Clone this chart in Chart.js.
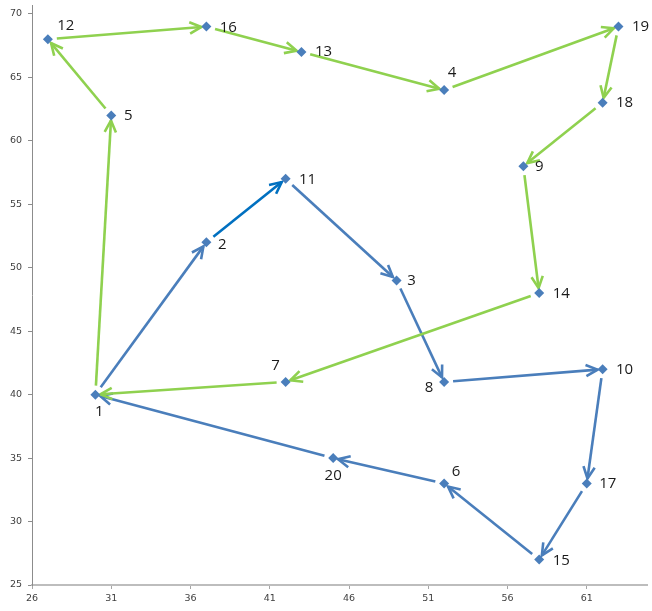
<!DOCTYPE html>
<html>
<head>
<meta charset="utf-8">
<script src="https://cdn.jsdelivr.net/npm/chart.js@4"></script>
<style>
  body { margin: 0; background: #fff; }
  #wrap { width: 652px; height: 611px; }
</style>
</head>
<body>
<div id="wrap"><canvas id="tour" width="652" height="611"></canvas></div>
<script>
// city ids and coordinates
const cityIds = [1, 2, 3, 4, 5, 6, 7, 8, 9, 10, 11, 12, 13, 14, 15, 16, 17, 18, 19, 20];
const xValues = [30, 37, 49, 52, 31, 52, 42, 52, 57, 62, 42, 27, 43, 58, 58, 37, 61, 62, 63, 45];
const yValues = [40, 52, 49, 64, 62, 33, 41, 41, 58, 42, 57, 68, 67, 48, 27, 69, 33, 63, 69, 35];

// the two routes, as lists of city ids
const blueRoute = [1, 2, 11, 3, 8, 10, 17, 15, 6, 20, 1];
const greenRoute = [1, 5, 12, 16, 13, 4, 19, 18, 9, 14, 7, 1];

// axis ticks
const xTicks = [26, 31, 36, 41, 46, 51, 56, 61];
const yTicks = [25, 30, 35, 40, 45, 50, 55, 60, 65, 70];

// where the number sits relative to its marker (px)
const labelOffset = {
  1: [4, 17], 2: [16, 2], 3: [15, 0], 4: [8, -17], 5: [17, 0],
  6: [12, -12], 7: [-10, -16], 8: [-15, 6], 9: [16, 1], 10: [22, 0],
  11: [22, 1], 12: [18, -14], 13: [22, 0], 14: [22, 1], 15: [22, 1],
  16: [22, 1], 17: [21, 0], 18: [22, 0], 19: [22, 0], 20: [0, 18],
};

const BLUE = "#4A7EBB";
const DARK_BLUE = "#0070C0";
const GREEN = "#8FD14F";

const points = cityIds.map((id, i) => ({ x: xValues[i], y: yValues[i], id: id }));

function zeroPadding(scale) {
  scale.paddingLeft = 0;
  scale.paddingRight = 0;
  scale.paddingTop = 0;
  scale.paddingBottom = 0;
}

function drawArrow(ctx, x1, y1, x2, y2, color) {
  const dx = x2 - x1;
  const dy = y2 - y1;
  const len = Math.sqrt(dx * dx + dy * dy);
  const ux = dx / len;
  const uy = dy / len;
  const sx = x1 + ux * 9;
  const sy = y1 + uy * 9;
  const ex = x2 - ux * 5;
  const ey = y2 - uy * 5;
  ctx.strokeStyle = color;
  ctx.lineWidth = 2.6;
  ctx.lineCap = "butt";
  ctx.beginPath();
  ctx.moveTo(sx, sy);
  ctx.lineTo(ex, ey);
  ctx.stroke();
  const head = 13;
  const ang = Math.atan2(uy, ux);
  ctx.lineJoin = "miter";
  ctx.beginPath();
  ctx.moveTo(ex - head * Math.cos(ang - 0.45), ey - head * Math.sin(ang - 0.45));
  ctx.lineTo(ex, ey);
  ctx.lineTo(ex - head * Math.cos(ang + 0.45), ey - head * Math.sin(ang + 0.45));
  ctx.stroke();
}

const routePlugin = {
  id: "routes",
  beforeDatasetsDraw(chart) {
    const ctx = chart.ctx;
    const xs = chart.scales.x;
    const ys = chart.scales.y;
    const px = (id) => xs.getPixelForValue(xValues[id - 1]);
    const py = (id) => ys.getPixelForValue(yValues[id - 1]);
    ctx.save();
    [[blueRoute, BLUE], [greenRoute, GREEN]].forEach(([route, color]) => {
      for (let i = 0; i < route.length - 1; i++) {
        const a = route[i];
        const b = route[i + 1];
        // the 2 -> 11 leg is drawn in a darker blue
        const c = a === 2 && b === 11 ? DARK_BLUE : color;
        drawArrow(ctx, px(a), py(a), px(b), py(b), c);
      }
    });
    ctx.restore();
  },
  afterDatasetsDraw(chart) {
    const ctx = chart.ctx;
    const xs = chart.scales.x;
    const ys = chart.scales.y;
    ctx.save();
    ctx.font = "15px 'Open Sans'";
    ctx.fillStyle = "#1a1a1a";
    ctx.textAlign = "center";
    ctx.textBaseline = "middle";
    cityIds.forEach((id, i) => {
      const off = labelOffset[id];
      ctx.fillText(
        String(id),
        xs.getPixelForValue(xValues[i]) + off[0],
        ys.getPixelForValue(yValues[i]) + off[1]
      );
    });
    ctx.restore();
  },
};

new Chart(document.getElementById("tour").getContext("2d"), {
  type: "scatter",
  data: {
    datasets: [
      {
        data: points,
        pointStyle: "rectRot",
        pointRadius: 5,
        backgroundColor: BLUE,
        borderColor: BLUE,
        borderWidth: 0,
      },
    ],
  },
  options: {
    responsive: false,
    animation: false,
    layout: { padding: { top: 5, right: 0, left: 0, bottom: 0 } },
    plugins: {
      legend: { display: false },
      tooltip: { enabled: false },
    },
    scales: {
      x: {
        type: "linear",
        min: 26,
        max: 64.8,
        afterBuildTicks: (scale) => {
          scale.ticks = xTicks.map((v) => ({ value: v }));
        },
        afterFit: (scale) => {
          scale.height = 26;
          zeroPadding(scale);
        },
        border: { color: "#BDBDBD", width: 2 },
        grid: {
          drawOnChartArea: false,
          drawTicks: true,
          tickLength: 4,
          color: "#A6A6A6",
        },
        ticks: {
          color: "#404040",
          font: { family: "DejaVu Sans", size: 9.5 },
          padding: 4,
          maxRotation: 0,
        },
      },
      y: {
        type: "linear",
        min: 25,
        max: 70.7,
        afterBuildTicks: (scale) => {
          scale.ticks = yTicks.map((v) => ({ value: v }));
        },
        afterFit: (scale) => {
          scale.width = 32;
          zeroPadding(scale);
        },
        border: { color: "#8C8C8C", width: 1 },
        grid: {
          drawOnChartArea: false,
          drawTicks: true,
          tickLength: 4,
          color: "#8C8C8C",
        },
        ticks: {
          color: "#404040",
          font: { family: "DejaVu Sans", size: 9.5 },
          padding: 6,
        },
      },
    },
  },
  plugins: [routePlugin],
});
</script>
</body>
</html>
